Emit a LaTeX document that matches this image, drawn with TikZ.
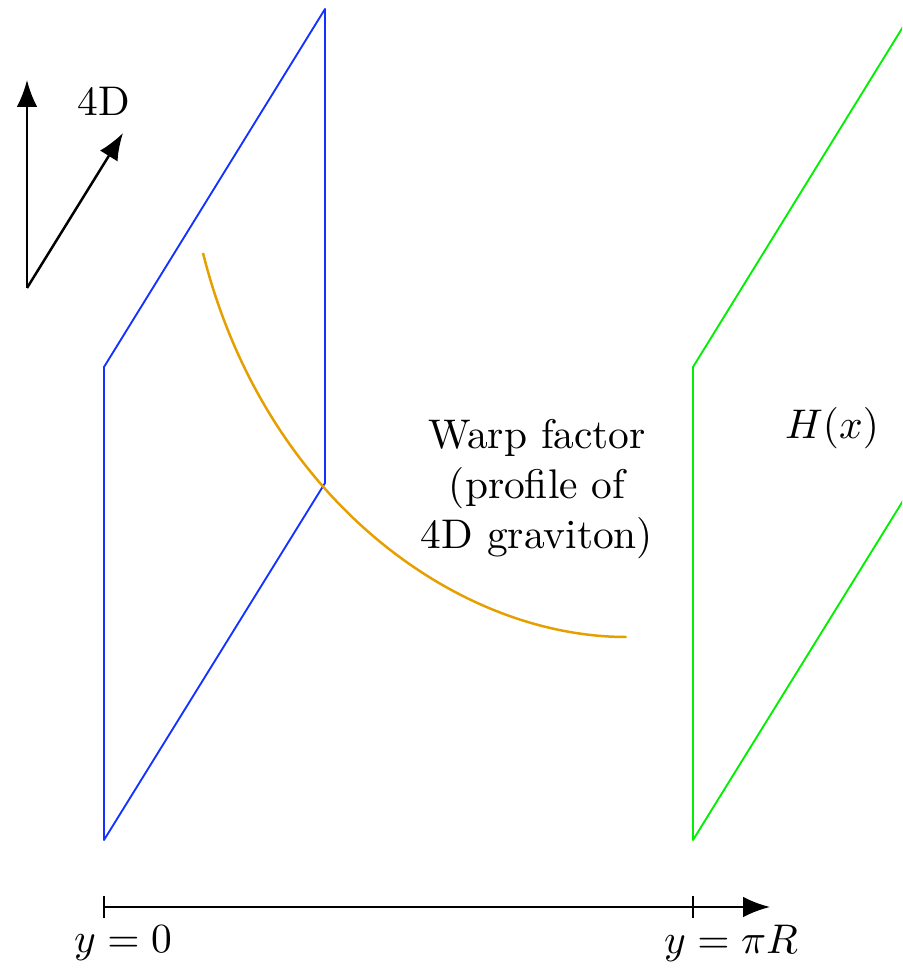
\documentclass[tikz,border=0pt]{standalone}
\usetikzlibrary{arrows.meta}
\definecolor{warpc}{RGB}{230,159,0}
\definecolor{branec}{RGB}{20,50,255}
\definecolor{tevc}{RGB}{0,240,0}
\begin{document}
\begin{tikzpicture}[x=0.00849cm,y=-0.00849cm,
  brane/.style={line width=0.45pt,line join=round},
  axisarrow/.style={line width=0.6pt,-{Latex[length=6.5pt,width=5pt]}},
  tickmark/.style={line width=0.5pt},
  lbl/.style={inner sep=0pt,font=\normalsize}]
\useasboundingbox (0,0) rectangle (902,970);
\clip (0,0) rectangle (902,970);
% Planck brane
\coordinate (b1) at (104,840);
\coordinate (b2) at (104,367);
\coordinate (b3) at (325,9);
\coordinate (b4) at (325,483);
% TeV brane
\coordinate (g1) at (693,840);
\coordinate (g2) at (693,367);
\coordinate (g3) at (914,9);
\coordinate (g4) at (914,483);
\draw[brane,draw=branec] (b1) -- (b2) -- (b3) -- (b4) -- cycle;
\draw[brane,draw=tevc] (g1) -- (g2) -- (g3) -- (g4) -- cycle;
% warp factor
\coordinate (w0) at (203,253);
\coordinate (w1) at (626.5,637);
\draw[line width=0.6pt,warpc] (w0) .. controls (264,497) and (456,637) .. (w1);
% 4D arrows
\coordinate (o) at (27,288);
\coordinate (up) at (27,80);
\coordinate (dg) at (123,133);
\draw[axisarrow] (o) -- (up);
\draw[axisarrow] (o) -- (dg);
\node[lbl] (fourd) at (104,101) {4D};
% y axis
\coordinate (a0) at (104,907);
\coordinate (aR) at (693,907);
\coordinate (aend) at (770,907);
\draw[axisarrow] (a0) -- (aend);
\draw[tickmark] ([yshift=2.6pt]a0) -- ([yshift=-2.6pt]a0);
\draw[tickmark] ([yshift=2.6pt]aR) -- ([yshift=-2.6pt]aR);
\node[lbl] (y0) at (123,943) {$y=0$};
\node[lbl] (yR) at (731,943) {$y=\pi R$};
% labels
\node[lbl,align=center] (warp) at (537,489) {Warp factor\\(profile of\\4D graviton)};
\node[lbl] (hx) at (832,428) {$H(x)$};
\end{tikzpicture}
\end{document}
